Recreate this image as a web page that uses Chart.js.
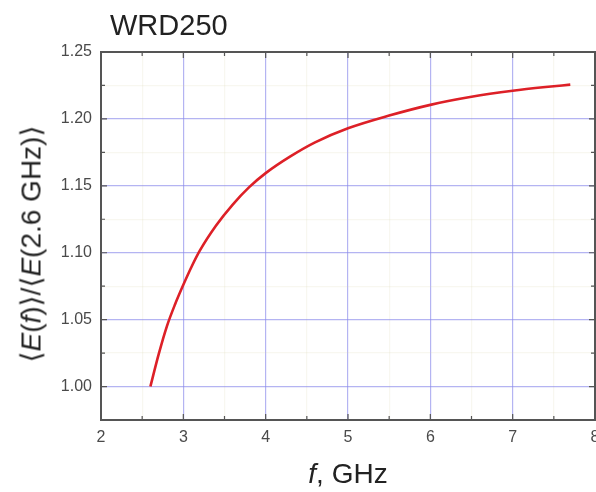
<!DOCTYPE html>
<html>
<head>
<meta charset="utf-8">
<script src="https://cdn.jsdelivr.net/npm/chart.js@4.4.0/dist/chart.umd.min.js"></script>
<style>
html, body { margin: 0; padding: 0; background: #fff; overflow: hidden; }
#wrap { position: relative; width: 596px; height: 492px; font-family: "Liberation Sans", Arial, sans-serif; }
#c { position: absolute; left: 0; top: 0; }
.lbl { position: absolute; white-space: nowrap; color: #222; }
</style>
</head>
<body>
<div id="wrap">
  <canvas id="c" width="596" height="492"></canvas>
  <div class="lbl" style="left:110px;top:9px;font-size:29px">WRD250</div>
  <div class="lbl" style="left:31px;top:244px;font-size:28px;transform:translate(-50%,-50%) rotate(-90deg)">⟨<i>E</i>(<i>f</i>)⟩/⟨<i>E</i>(2.6 GHz)⟩</div>
  <div class="lbl" style="left:348px;top:474px;font-size:28px;transform:translate(-50%,-50%)"><i>f</i>, GHz</div>
</div>
<script>
// values
const freqGHz = [2.6, 2.7, 2.8, 2.9, 3.0, 3.1, 3.2, 3.4, 3.6, 3.8, 4.0, 4.3, 4.6, 5.0, 5.5, 6.0, 6.5, 7.0, 7.4, 7.7];
const ratio   = [1.000, 1.024, 1.045, 1.0615, 1.076, 1.0895, 1.1015, 1.1205, 1.136, 1.149, 1.1595, 1.172, 1.1825, 1.193, 1.2025, 1.2105, 1.2165, 1.221, 1.2238, 1.2256];

const xMin = 2, xMax = 8, xStep = 0.5;
const yMin = 0.975, yMax = 1.25, yStep = 0.025;

const isMajorX = v => Math.abs(v - Math.round(v)) < 1e-6;
const isMajorY = v => Math.abs(v * 20 - Math.round(v * 20)) < 1e-6 && v > yMin + 1e-6;

// frame + inward tick marks
const frame = {
  id: "frame",
  afterDatasetsDraw(chart) {
    const { ctx, chartArea: a, scales: { x, y } } = chart;
    ctx.save();
    ctx.strokeStyle = "#555";
    ctx.lineWidth = 1.2;
    ctx.beginPath();
    x.ticks.forEach(t => {
      const px = x.getPixelForValue(t.value);
      const len = isMajorX(t.value) ? 6 : 4;
      ctx.moveTo(px, a.bottom); ctx.lineTo(px, a.bottom - len);
      ctx.moveTo(px, a.top); ctx.lineTo(px, a.top + len);
    });
    y.ticks.forEach(t => {
      const py = y.getPixelForValue(t.value);
      const len = isMajorY(t.value) ? 6 : 4;
      ctx.moveTo(a.left, py); ctx.lineTo(a.left + len, py);
      ctx.moveTo(a.right, py); ctx.lineTo(a.right - len, py);
    });
    ctx.stroke();
    ctx.lineWidth = 2;
    ctx.strokeRect(a.left, a.top, a.right - a.left, a.bottom - a.top);
    ctx.restore();
  }
};

new Chart(document.getElementById("c"), {
  type: "scatter",
  data: {
    datasets: [{
      data: freqGHz.map((f, i) => ({ x: f, y: ratio[i] })),
      showLine: true,
      borderColor: "#dd2027",
      borderWidth: 2.6,
      pointRadius: 0,
      cubicInterpolationMode: "monotone",
      fill: false
    }]
  },
  options: {
    responsive: false,
    animation: false,
    layout: { padding: { top: 52, right: 1, left: 0, bottom: 0 } },
    plugins: { legend: { display: false }, tooltip: { enabled: false } },
    scales: {
      x: {
        type: "linear",
        min: xMin, max: xMax,
        border: { display: false },
        grid: {
          drawTicks: false,
          lineWidth: 1.2,
          color: c => isMajorX(c.tick.value) ? "rgba(140,140,235,0.65)" : "rgba(215,210,170,0.18)"
        },
        ticks: {
          stepSize: xStep,
          autoSkip: false,
          maxRotation: 0,
          padding: 8,
          color: "#4a4a4a",
          font: { family: "Liberation Sans", size: 16 },
          callback: v => isMajorX(v) ? String(Math.round(v)) : ""
        },
        afterFit(s) { s.height = 72; s.paddingLeft = 0; s.paddingRight = 0; }
      },
      y: {
        min: yMin, max: yMax,
        border: { display: false },
        grid: {
          drawTicks: false,
          lineWidth: 1.2,
          color: c => isMajorY(c.tick.value) ? "rgba(140,140,235,0.65)" : "rgba(215,210,170,0.18)"
        },
        ticks: {
          stepSize: yStep,
          autoSkip: false,
          padding: 9,
          color: "#4a4a4a",
          font: { family: "Liberation Sans", size: 16 },
          callback: v => isMajorY(v) ? v.toFixed(2) : ""
        },
        afterFit(s) { s.width = 101; s.paddingTop = 0; s.paddingBottom = 0; }
      }
    }
  },
  plugins: [frame]
});
</script>
</body>
</html>
